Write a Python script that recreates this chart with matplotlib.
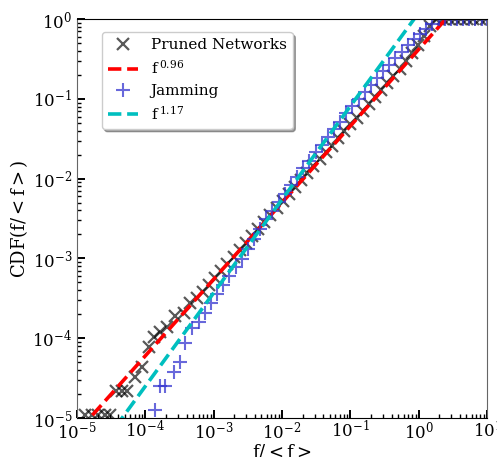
import matplotlib
matplotlib.use("Agg")
import matplotlib.pyplot as plt
import numpy as np

plt.rcParams['font.family'] = ['DejaVu Serif']
plt.rcParams['mathtext.fontset'] = 'dejavuserif'

# Pruned Networks CDF
pruned_x = [1.32e-5, 1.66e-5, 2.04e-5, 2.57e-5, 3.0e-5, 3.7e-5, 4.57e-5, 5.37e-5,
            7.1e-5, 8.9e-5, 1.12e-4, 1.35e-4, 1.66e-4, 2.09e-4, 2.75e-4, 3.7e-4,
            4.47e-4, 5.75e-4, 6.9e-4, 8.5e-4, 1.05e-3, 1.29e-3, 1.58e-3, 1.95e-3,
            2.4e-3, 2.95e-3, 3.63e-3, 4.47e-3, 5.5e-3, 6.76e-3, 8.3e-3, 1.02e-2,
            1.26e-2, 1.55e-2, 1.9e-2, 2.34e-2, 2.88e-2, 3.55e-2, 4.37e-2, 5.37e-2,
            6.6e-2, 8.1e-2, 0.1, 0.123, 0.151, 0.186, 0.229, 0.282, 0.347, 0.427,
            0.525, 0.646, 0.794, 0.977, 1.2, 1.48, 1.82, 2.24, 2.75, 3.39, 4.17,
            5.13, 6.31, 7.76, 9.55]
pruned_y = [1.1e-5, 1.1e-5, 1.1e-5, 1.1e-5, 1.1e-5, 2.2e-5, 2.2e-5, 2.2e-5,
            3.3e-5, 4.4e-5, 7.7e-5, 1.05e-4, 1.2e-4, 1.4e-4, 1.9e-4, 2.1e-4,
            2.8e-4, 3.2e-4, 3.8e-4, 4.7e-4, 5.7e-4, 7.0e-4, 8.5e-4, 1.05e-3,
            1.28e-3, 1.56e-3, 1.9e-3, 2.34e-3, 2.88e-3, 3.5e-3, 4.3e-3, 5.25e-3,
            6.4e-3, 7.8e-3, 9.5e-3, 1.17e-2, 1.44e-2, 1.75e-2, 2.13e-2, 2.6e-2,
            3.2e-2, 3.9e-2, 4.8e-2, 5.8e-2, 7.1e-2, 8.7e-2, 0.106, 0.129, 0.16,
            0.195, 0.24, 0.297, 0.375, 0.479, 0.612, 0.819, 1.0, 1.0, 1.0, 1.0,
            1.0, 1.0, 1.0, 1.0, 1.0]

# Jamming CDF
jam_x = [1.38e-4, 1.66e-4, 1.95e-4, 2.63e-4, 3.24e-4, 3.8e-4, 4.79e-4, 6.17e-4,
         7.41e-4, 9.12e-4, 1.12e-3, 1.38e-3, 1.7e-3, 2.09e-3, 2.57e-3, 3.16e-3,
         3.89e-3, 4.79e-3, 5.89e-3, 7.24e-3, 8.91e-3, 1.1e-2, 1.35e-2, 1.66e-2,
         2.04e-2, 2.51e-2, 3.09e-2, 3.8e-2, 4.68e-2, 5.75e-2, 7.08e-2, 8.71e-2,
         0.107, 0.132, 0.162, 0.2, 0.245, 0.302, 0.372, 0.457, 0.562, 0.692,
         0.851, 1.05, 1.29, 1.58, 1.95, 2.4, 2.95, 3.63, 4.47, 5.5, 6.76, 8.32, 10.0]
jam_y = [1.25e-5, 2.5e-5, 2.5e-5, 3.75e-5, 5e-5, 8.75e-5, 1.35e-4, 1.6e-4,
         2.1e-4, 2.75e-4, 3.6e-4, 4.7e-4, 6.0e-4, 7.8e-4, 9.95e-4, 1.3e-3,
         1.73e-3, 2.31e-3, 3.08e-3, 3.93e-3, 5.1e-3, 6.5e-3, 8.3e-3, 1.06e-2,
         1.35e-2, 1.68e-2, 2.14e-2, 2.67e-2, 3.33e-2, 4.14e-2, 5.2e-2, 6.58e-2,
         8.1e-2, 9.95e-2, 0.123, 0.149, 0.182, 0.221, 0.269, 0.324, 0.389, 0.469,
         0.557, 0.647, 0.753, 0.875, 0.99, 1.0, 1.0, 1.0, 1.0, 1.0, 1.0, 1.0, 1.0]

# power-law fits
exp_pruned, amp_pruned = 0.96, 0.417
exp_jam, amp_jam = 1.17, 1.2

fig = plt.figure(figsize=(4.97, 4.57), dpi=100)
ax = fig.add_axes([0.155, 0.0853, 0.825, 0.873])

xf = np.logspace(-6, 1, 50)
ax.plot(pruned_x, pruned_y, 'x', color='k', alpha=0.65, ms=8, mew=1.6,
        label='Pruned Networks')
ax.plot(xf, amp_pruned * xf**exp_pruned, '--', color='r', lw=2.6,
        label=r'f$\,^{0.96}$')
ax.plot(jam_x, jam_y, '+', color='#3535d0', alpha=0.75, ms=10, mew=1.5,
        label='Jamming')
ax.plot(xf, amp_jam * xf**exp_jam, '--', color='c', lw=2.6,
        label=r'f$\,^{1.17}$')

ax.set_xscale('log')
ax.set_yscale('log')
ax.set_xlim(1e-5, 1e1)
ax.set_ylim(1e-5, 1e0)

ax.tick_params(which='both', direction='in', top=False, right=False,
               labelsize=12)
ax.tick_params(axis='x', which='both', pad=1.5)
ax.tick_params(which='major', length=6, width=1.4)
ax.tick_params(which='minor', length=3, width=1.0)
ax.spines['left'].set_color('#666666')
ax.spines['right'].set_color('#666666')

ax.set_xlabel(r'$\mathrm{f/<f>}$', fontsize=13, labelpad=0)
ax.set_ylabel(r'CDF($\mathrm{f/<f>}$)', fontsize=13, labelpad=2)

ax.legend(loc='upper left', bbox_to_anchor=(0.06, 0.967), borderaxespad=0,
          fontsize=11, labelspacing=0.45, shadow=True, handlelength=2.0)

plt.savefig('out.png', dpi=100)
